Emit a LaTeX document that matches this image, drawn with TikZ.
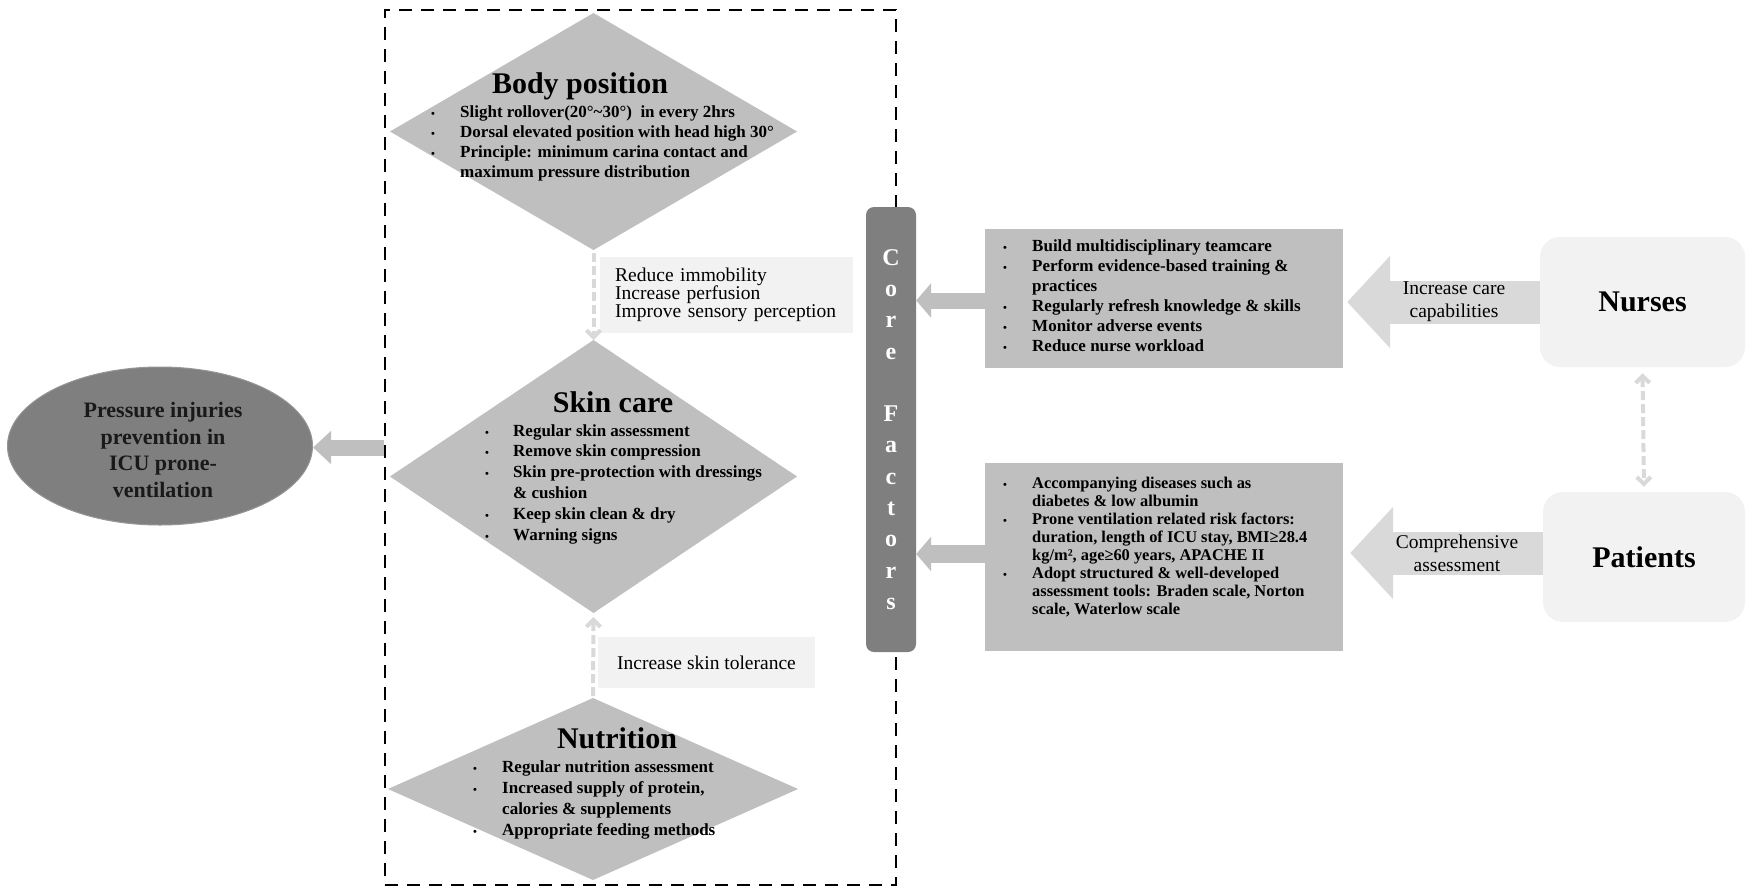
\documentclass[tikz,border=0pt]{standalone}
\usepackage{fontspec}
\setmainfont{Liberation Serif}
\usetikzlibrary{shapes.geometric,arrows.meta,calc}
\definecolor{dgray}{RGB}{127,127,127}
\definecolor{mgray}{RGB}{191,191,191}
\definecolor{lgray}{RGB}{217,217,217}
\definecolor{pgray}{RGB}{242,242,242}
\newcommand{\dotb}{{\fontsize{11}{11}\selectfont\textbullet}}
\newcommand{\BL}[2]{\begin{tabular}[t]{@{}p{#1}@{}l@{}}#2\end{tabular}}
\begin{document}
\begin{tikzpicture}[x=1pt,y=-1pt,
  frame/.style={draw=black, line width=2.5pt, dash pattern=on 13pt off 9pt, inner sep=0},
  dia/.style={diamond, fill=mgray, draw=none, inner sep=0, outer sep=0},
  title/.style={font=\fontsize{30}{34}\selectfont\bfseries, inner sep=0, anchor=base},
  blt/.style={inner sep=0, anchor=base west},
  lbl/.style={fill=pgray, inner sep=0, font=\fontsize{19.5}{18}\selectfont},
  dsh/.style={draw=lgray, line width=4pt, dash pattern=on 9pt off 4pt, -{Straight Barb[length=7pt,width=14pt]}},
  dsh2/.style={draw=lgray, line width=4pt, dash pattern=on 9pt off 4pt, {Straight Barb[length=7pt,width=14pt]}-{Straight Barb[length=7pt,width=14pt]}},
  gbox/.style={fill=mgray, inner sep=0},
  pbox/.style={fill=pgray, rounded corners=20pt, inner sep=0, font=\fontsize{30}{34}\selectfont\bfseries},
  core/.style={fill=dgray, rounded corners=8pt, inner sep=0, text=white, align=center, font=\fontsize{24}{31.3}\selectfont\bfseries},
  carr/.style={draw=mgray, -{Triangle[length=15pt,width=34pt]}},
  nblk/.style={draw=lgray, line width=43pt, -{Triangle[length=43pt,width=90pt]}},
  albl/.style={inner sep=0, align=center, font=\fontsize{19.5}{23}\selectfont}
]
\useasboundingbox (0,0) rectangle (1754,892);
\fill[white] (0,0) rectangle (1754,892);

% dashed frame
\node[frame, minimum width=511pt, minimum height=875pt] (frame) at (640.5,447.5) {};

% diamonds
\node[dia, minimum width=407pt, minimum height=237pt] (body) at (593.5,131.5) {};
\node[dia, minimum width=407pt, minimum height=273pt] (skin) at (593.5,476.5) {};
\node[dia, minimum width=410pt, minimum height=182pt] (nutr) at (593,789) {};

\node[title] (bodyT) at (580,93) {Body position};
\node[title] (skinT) at (613,412) {Skin care};
\node[title] (nutrT) at (617,748) {Nutrition};

\node[blt, font=\fontsize{17}{20}\selectfont\bfseries] (bodyL) at (431,117) {\BL{29pt}{%
\dotb & Slight rollover(20°\textasciitilde30°) \ in every 2hrs\\
\dotb & Dorsal elevated position with head high 30°\\
\dotb & Principle: minimum carina contact and\\
 & maximum pressure distribution}};

\node[blt, font=\fontsize{17}{20.8}\selectfont\bfseries] (skinL) at (485,436) {\BL{28pt}{%
\dotb & Regular skin assessment\\
\dotb & Remove skin compression\\
\dotb & Skin pre-protection with dressings\\
 & \& cushion\\
\dotb & Keep skin clean \& dry\\
\dotb & Warning signs}};

\node[blt, font=\fontsize{17}{21}\selectfont\bfseries] (nutrL) at (473,772) {\BL{29pt}{%
\dotb & Regular nutrition assessment\\
\dotb & Increased supply of protein,\\
 & calories \& supplements\\
\dotb & Appropriate feeding methods}};

% label boxes
\node[lbl, anchor=north west, minimum width=253pt, minimum height=76pt, text width=223pt, inner xsep=15pt, align=left] (lab1) at (600,257) {Reduce immobility\\Increase perfusion\\Improve sensory perception};
\node[lbl, minimum width=217pt, minimum height=51pt, align=center] (lab2) at (706.5,662.5) {Increase skin tolerance};

% dashed arrows
\draw[dsh, shorten <=3pt] (body.south) -- (skin.north);
\draw[dsh, shorten <=2pt, shorten >=4pt] (nutr.north) -- (skin.south);

% ellipse
\node[ellipse, fill=dgray, draw={rgb,255:red,150;green,150;blue,150}, line width=1pt, minimum width=305pt, minimum height=158pt, inner sep=0] (ell) at (160,446) {};
\node[inner sep=0, align=center, font=\fontsize{22}{26.7}\selectfont\bfseries, text=black!90] (ellT) at (163,450) {Pressure injuries\\prevention in\\ICU prone-\\ventilation};
\draw[carr, line width=16pt, -{Triangle[length=18pt,width=32pt]}] (frame.west) -- (frame.west -| ell.east);

% core factors bar
\node[core, minimum width=50pt, minimum height=445pt] (core) at (891,429.5) {C\\o\\r\\e\\[31.3pt]F\\a\\c\\t\\o\\r\\s};

% grey boxes
\node[gbox, minimum width=358pt, minimum height=139pt] (box1) at (1164,298.5) {};
\node[gbox, minimum width=358pt, minimum height=188pt] (box2) at (1164,557) {};

\node[blt, font=\fontsize{17}{20}\selectfont\bfseries] (box1L) at (1003,251) {\BL{29pt}{%
\dotb & Build multidisciplinary teamcare\\
\dotb & Perform evidence-based training \&\\
 & practices\\
\dotb & Regularly refresh knowledge \& skills\\
\dotb & Monitor adverse events\\
\dotb & Reduce nurse workload}};

\node[blt, font=\fontsize{16.4}{18}\selectfont\bfseries] (box2L) at (1003,488) {\BL{29pt}{%
\dotb & Accompanying diseases such as\\
 & diabetes \& low albumin\\
\dotb & Prone ventilation related risk factors:\\
 & duration, length of ICU stay, BMI≥28.4\\
 & kg/m², age≥60 years, APACHE II\\
\dotb & Adopt structured \& well-developed\\
 & assessment tools: Braden scale, Norton\\
 & scale, Waterlow scale}};

\draw[carr, line width=16pt] ([yshift=-2pt]box1.west) -- ([yshift=-2pt]box1.west -| core.east);
\draw[carr, line width=18pt] ([yshift=3pt]box2.west) -- ([yshift=3pt]box2.west -| core.east);

% nurses / patients
\node[pbox, minimum width=205pt, minimum height=130pt] (nurses) at (1642.5,302) {Nurses};
\node[pbox, minimum width=202pt, minimum height=130pt] (patients) at (1644,557) {Patients};

\draw[nblk, shorten >=4pt] (nurses.west) -- (nurses.west -| box1.east);
\draw[nblk, shorten >=7pt] ([yshift=4pt]patients.west) -- ([yshift=4pt]patients.west -| box2.east);
\node[albl] (lblN) at (1454,302) {Increase care\\capabilities};
\node[albl] (lblP) at (1457,553) {Comprehensive\\assessment};

\draw[dsh2, shorten <=6pt, shorten >=5pt] (nurses.south) -- (patients.north);
\end{tikzpicture}
\end{document}
